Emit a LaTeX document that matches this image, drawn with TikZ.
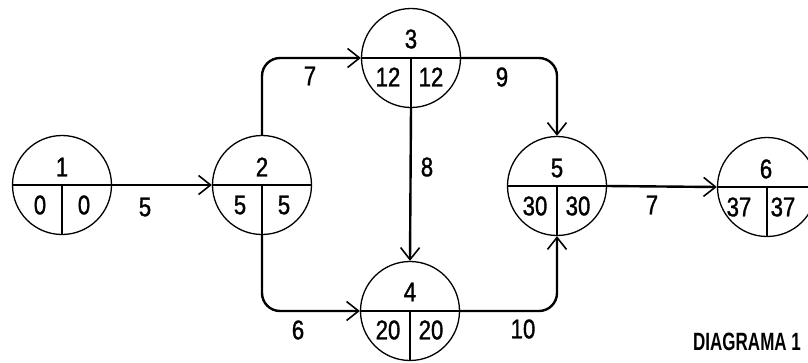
\documentclass[tikz,border=0pt]{standalone}
\usepackage{fontspec}
\newfontfamily\lett[FakeStretch=0.82,FakeBold=1.2]{Liberation Sans}
\newfontfamily\lettb[FakeStretch=0.68]{Liberation Sans Bold}
\usetikzlibrary{arrows.meta}
\tikzset{
  evt/.style={circle, draw, line width=1.3pt, minimum size=99pt, inner sep=0pt,
    path picture={\draw[line width=1.3pt] (path picture bounding box.west) -- (path picture bounding box.east)
      (path picture bounding box.center) -- (path picture bounding box.south);}},
  num/.style={font=\lett\fontsize{27}{27}\selectfont, inner sep=0pt},
  lbl/.style={font=\lett\fontsize{27}{27}\selectfont, inner sep=0pt},
  act/.style={line width=2.4pt, rounded corners=18pt,
    -{Straight Barb[length=12pt,width=19pt,line width=1.6pt]}},
}
\begin{document}
\begin{tikzpicture}[x=1pt,y=-1pt]
\clip (0,0) rectangle (808,362);
\fill[white] (0,0) rectangle (808,362);
% events
\node[evt] (n1) at (62,185) {};
\node[evt] (n2) at (262,185) {};
\node[evt] (n3) at (411,58) {};
\node[evt] (n4) at (410,311) {};
\node[evt] (n5) at (557,186) {};
\node[evt] (n6) at (767,187) {};
% numbers
\node[num] (n1t) at (62,167) {1};
\node[num] (n1l) at (40,205) {0};
\node[num] (n1r) at (84,205) {0};
\node[num] (n2t) at (262,167) {2};
\node[num] (n2l) at (240,205) {5};
\node[num] (n2r) at (284,205) {5};
\node[num] (n3t) at (411,39) {3};
\node[num] (n3l) at (388,77) {12};
\node[num] (n3r) at (431,77) {12};
\node[num] (n4t) at (410,292) {4};
\node[num] (n4l) at (388,330) {20};
\node[num] (n4r) at (431,330) {20};
\node[num] (n5t) at (557,168) {5};
\node[num] (n5l) at (535,206) {30};
\node[num] (n5r) at (578,206) {30};
\node[num] (n6t) at (766,169) {6};
\node[num] (n6l) at (739,207) {37};
\node[num] (n6r) at (783,207) {37};
% activities
\draw[act] (n1.east) -- (n2.west);
\draw[act] (n2.north) |- (n3.west);
\draw[act] (n2.south) |- (n4.west);
\draw[act] (n3.south) -- (n4.north);
\draw[act] (n3.east) -| (n5.north);
\draw[act] (n4.east) -| (n5.south);
\draw[act] (n5.east) -- (n6.west);
% durations
\node[lbl] (d12) at (145,207) {5};
\node[lbl] (d23) at (310,76) {7};
\node[lbl] (d24) at (298,330) {6};
\node[lbl] (d34) at (427,167) {8};
\node[lbl] (d35) at (502,77) {9};
\node[lbl] (d45) at (523,329) {10};
\node[lbl] (d56) at (652,205) {7};
\node[font=\lettb\fontsize{25}{25}\selectfont, inner sep=0pt, anchor=base west] (title) at (693,350) {DIAGRAMA 1};
\end{tikzpicture}
\end{document}
